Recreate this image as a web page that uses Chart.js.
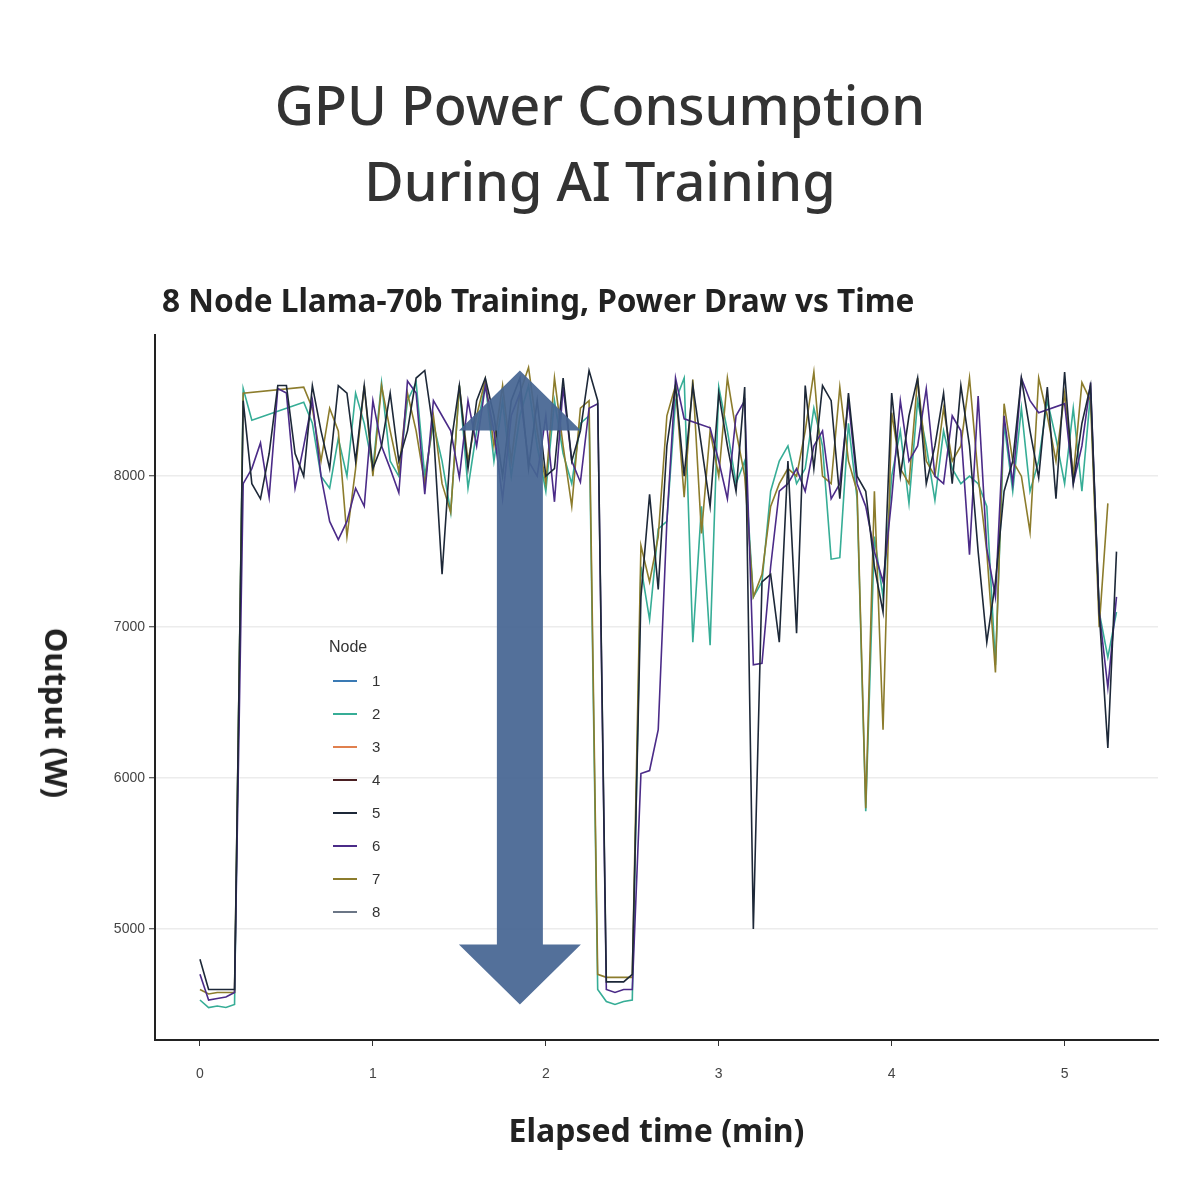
<!DOCTYPE html>
<html>
<head>
<meta charset="utf-8">
<script src="https://cdn.jsdelivr.net/npm/chart.js@4"></script>
<style>
    body { margin: 0; background: #fff; }
    #wrap { position: relative; width: 1200px; height: 1200px; background: #fff; }
    #chart { position: absolute; left: 0; top: 0; }
    .title {
        position: absolute; left: 0; top: 66px; width: 1200px; text-align: center;
        font-family: 'Noto Sans', sans-serif; font-size: 54px; font-weight: 500;
        line-height: 76px; color: #333;
    }
    .subtitle {
        position: absolute; left: 162px; top: 281px;
        font-family: 'Noto Sans', sans-serif; font-size: 31.6px; font-weight: bold;
        line-height: 38px; color: #222; white-space: nowrap;
    }
    .ylabel {
        position: absolute; left: 57px; top: 713px; white-space: nowrap;
        font-family: 'Noto Sans', sans-serif; font-size: 31px; font-weight: bold; color: #222;
        transform: translate(-50%, -50%) rotate(90deg);
    }
    #legend {
        position: absolute; left: 329px; top: 638px;
        font-family: 'Liberation Sans', Arial, sans-serif; color: #333;
    }
    #legend .head { font-size: 16px; height: 26px; }
    #legend .row { display: flex; align-items: center; height: 33px; font-size: 15px; }
    #legend .sw { display: inline-block; width: 24px; height: 2px; margin: 0 15px 0 4px; }
</style>
</head>
<body>
<div id="wrap">
    <canvas id="chart" width="1200" height="1200"></canvas>
    <div class="title">GPU Power Consumption<br>During AI Training</div>
    <div class="subtitle">8 Node Llama-70b Training, Power Draw vs Time</div>
    <div class="ylabel">Output (W)</div>
    <div id="legend"></div>
</div>
<script>
// elapsed time (min) of each sample
const times = [
    0, 0.05, 0.1, 0.15, 0.2, 0.25, 0.3, 0.35, 0.4, 0.45,
    0.5, 0.55, 0.6, 0.65, 0.7, 0.75, 0.8, 0.85, 0.9, 0.95,
    1, 1.05, 1.1, 1.15, 1.2, 1.25, 1.3, 1.35, 1.4, 1.45,
    1.5, 1.55, 1.6, 1.65, 1.7, 1.75, 1.8, 1.85, 1.9, 1.95,
    2, 2.05, 2.1, 2.15, 2.2, 2.25, 2.3, 2.35, 2.4, 2.45,
    2.5, 2.55, 2.6, 2.65, 2.7, 2.75, 2.8, 2.85, 2.9, 2.95,
    3, 3.05, 3.1, 3.15, 3.2, 3.25, 3.3, 3.35, 3.4, 3.45,
    3.5, 3.55, 3.6, 3.65, 3.7, 3.75, 3.8, 3.85, 3.9, 3.95,
    4, 4.05, 4.1, 4.15, 4.2, 4.25, 4.3, 4.35, 4.4, 4.45,
    4.5, 4.55, 4.6, 4.65, 4.7, 4.75, 4.8, 4.85, 4.9, 4.95,
    5, 5.05, 5.1, 5.15, 5.2, 5.25, 5.3
];

const nodeNames = ['1', '2', '3', '4', '5', '6', '7', '8'];
const nodeColors = ['#3a7ab4', '#36ad96', '#e0804e', '#4a1f22', '#1d2838', '#4b2b88', '#8c7c2c', '#6b7686'];

// power draw (W) per node; nodes 1, 3, 4 and 8 sit hidden under the others in the source
const node1 = [];
const node3 = [];
const node4 = [];
const node8 = [];

const node2 = [
    4530, 4480, 4490, 4480, 4500, 8580, 8370, null, null, null,
    null, null, 8490, 8350, 8000, 7920, 8250, 8000, 8550, 8350,
    8050, 8620, 8100, 8000, 8500, 8620, 8000, 8350, 8100, 7760,
    8600, 7920, 8300, 8620, 8100, 8500, 8000, 8400, 8600, 8200,
    7900, 8500, 8150, 7950, 8350, 8400, 4600, 4520, 4500, 4520,
    4530, 7400, 7050, 7650, 7700, 8500, 8650, 6900, 7800, 6880,
    8590, 8300, 7950, 8100, 7200, 7300, 7900, 8100, 8200, 7950,
    8050, 8450, 8200, 7450, 7460, 8350, 7850, 5780, 7600, 7200,
    8000, 8300, 7820, 8500, 8200, 7840, 8300, 8050, 7950, 8000,
    7950, 7800, 6750, 8350, 7900, 8450, 7900, 8100, 8500, 8250,
    7950, 8450, 7900, 8550, 7100, 6800, 7100
];

const node5 = [
    4800, 4600, 4600, 4600, 4600, 8500, 7950, 7850, 8150, 8600,
    8600, 8150, 8000, 8600, 8300, 8050, 8600, 8550, 8100, 8600,
    8050, 8200, 8550, 8100, 8300, 8650, 8700, 8300, 7350, 8200,
    8600, 8050, 8500, 8650, 8400, 8000, 8500, 8650, 8050, 8500,
    8000, 8050, 8650, 8100, 8300, 8700, 8500, 4650, 4650, 4650,
    4700, 7200, 7880, 7250, 8200, 8600, 8000, 8600, 8200, 7800,
    8550, 8200, 7900, 8590, 5000, 7300, 7350, 6900, 8100, 6960,
    8600, 8050, 8600, 8500, 7850, 8550, 8000, 7900, 7400, 7100,
    8550, 8000, 8400, 8650, 7950, 8200, 8550, 7950, 8600, 8200,
    7500, 6900, 7300, 7900, 8100, 8650, 8300, 7990, 8590, 7850,
    8690, 7950, 8350, 8600, 7100, 6200, 7500
];

const node6 = [
    4700, 4530, 4540, 4550, 4580, 7950, 8050, 8220, 7860, 8580,
    8550, 7920, 8200, 8500, 8000, 7700, 7580, 7700, 7920, 7800,
    8500, 8200, 8050, 7890, 8630, 8550, 7880, 8500, 8400, 8300,
    7990, 8500, 8200, 8600, 8300, 7850, 8400, 8550, 8100, 8000,
    8400, 7830, 8590, 8100, 7960, 8450, 8480, 4600, 4580, 4600,
    4600, 6030, 6050, 6320, 7700, 8650, 8380, null, null, 8320,
    8100, 7850, 8400, 8500, 6750, 6760, 7400, 7900, 7950, 8050,
    7900, 8200, 8300, 7850, 7950, 8500, 7950, 7800, 7500, 7300,
    7850, 8500, 8100, 8200, 8580, 8000, 7950, 8400, 8300, 7480,
    8530, 7520, 7200, 8400, 7950, 8650, 8500, 8420, null, null,
    8480, 7950, 8200, 8620, 7100, 6600, 7200
];

const node7 = [
    4600, 4570, 4580, 4580, 4580, 8550, null, null, null, null,
    null, null, 8590, 8450, 8100, 8450, 8300, 7600, 8050, 8600,
    8000, 8600, 8300, 8030, 8550, 8300, 7950, 8400, 7950, 7760,
    8600, 8100, 8400, 8640, 8200, 8600, 8100, 8550, 8720, 8300,
    7950, 8650, 8200, 7800, 8450, 8500, 4700, 4680, 4680, 4680,
    4680, 7540, 7300, 7600, 8400, 8600, 7860, 8640, 7620, 8300,
    8000, 8650, 8300, 8000, 7200, 7350, 7800, 7950, 8050, 8000,
    8300, 8690, 8000, 7950, 8590, 8100, 7900, 5800, 7900, 6320,
    8420, 8050, 7950, 8650, 8100, 8000, 8450, 8100, 8200, 8650,
    8000, 7500, 6700, 8480, 8100, 8000, 7630, 8650, 8400, 8100,
    8550, 8000, 8620, 8500, 7000, 7820, null
];

const nodeSeries = [node1, node2, node3, node4, node5, node6, node7, node8];
// drawing order: lower is painted on top
const nodeOrder = [6, 3, 5, 7, 0, 1, 2, 4];

const xTicks = [0, 1, 2, 3, 4, 5];
const yTicks = [5000, 6000, 7000, 8000];

// double-headed arrow annotation (data coordinates)
const arrowX = 1.85;
const arrowTop = 8700;
const arrowBottom = 4500;

const arrowPlugin = {
    id: 'arrow',
    afterDatasetsDraw(chart) {
        const { ctx, scales: { x, y } } = chart;
        const cx = x.getPixelForValue(arrowX);
        const top = y.getPixelForValue(arrowTop);
        const bottom = y.getPixelForValue(arrowBottom);
        const head = 60, halfHead = 61, halfShaft = 23;
        ctx.save();
        ctx.fillStyle = 'rgba(70, 101, 146, 0.93)';
        ctx.beginPath();
        ctx.moveTo(cx, top);
        ctx.lineTo(cx + halfHead, top + head);
        ctx.lineTo(cx + halfShaft, top + head);
        ctx.lineTo(cx + halfShaft, bottom - head);
        ctx.lineTo(cx + halfHead, bottom - head);
        ctx.lineTo(cx, bottom);
        ctx.lineTo(cx - halfHead, bottom - head);
        ctx.lineTo(cx - halfShaft, bottom - head);
        ctx.lineTo(cx - halfShaft, top + head);
        ctx.lineTo(cx - halfHead, top + head);
        ctx.closePath();
        ctx.fill();
        ctx.restore();
    }
};

const datasets = nodeNames.map((name, i) => ({
    label: name,
    data: nodeSeries[i].map((v, j) => ({ x: times[j], y: v })),
    borderColor: nodeColors[i],
    backgroundColor: nodeColors[i],
    borderWidth: 1.6,
    pointRadius: 0,
    tension: 0,
    spanGaps: true,
    order: nodeOrder[i]
}));

const tickFont = { family: "'Liberation Sans', Arial, sans-serif", size: 14 };

const chart = new Chart(document.getElementById('chart').getContext('2d'), {
    type: 'line',
    data: { datasets: datasets },
    options: {
        responsive: false,
        animation: false,
        devicePixelRatio: 1,
        layout: { padding: { top: 335, right: 42, left: 0, bottom: 0 } },
        plugins: {
            legend: { display: false },
            tooltip: { enabled: false }
        },
        scales: {
            x: {
                type: 'linear',
                min: -0.26,
                max: 5.54,
                afterBuildTicks: scale => { scale.ticks = xTicks.map(v => ({ value: v })); },
                afterFit: scale => { scale.height = 160; },
                grid: { drawOnChartArea: false, tickLength: 6, tickColor: '#333', tickWidth: 1 },
                border: { color: '#222', width: 2 },
                ticks: { color: '#444', font: tickFont, padding: 20, maxRotation: 0, callback: v => String(v) },
                title: {
                    display: true,
                    text: 'Elapsed time (min)',
                    color: '#222',
                    font: { family: "'Noto Sans', sans-serif", size: 32, weight: 'bold' },
                    padding: { top: 0, bottom: 48 }
                }
            },
            y: {
                min: 4265,
                max: 8935,
                afterBuildTicks: scale => { scale.ticks = yTicks.map(v => ({ value: v })); },
                afterFit: scale => { scale.width = 155; },
                grid: { color: '#ececec', lineWidth: 1.5, tickLength: 6, tickColor: '#333', tickWidth: 1 },
                border: { color: '#222', width: 2 },
                ticks: { color: '#444', font: tickFont, padding: 4, callback: v => String(v) }
            }
        }
    },
    plugins: [arrowPlugin]
});

// legend built from the chart's datasets, placed inside the plot like the source
const legendEl = document.getElementById('legend');
const head = document.createElement('div');
head.className = 'head';
head.textContent = 'Node';
legendEl.appendChild(head);
chart.data.datasets.forEach(ds => {
    const row = document.createElement('div');
    row.className = 'row';
    const sw = document.createElement('span');
    sw.className = 'sw';
    sw.style.background = ds.borderColor;
    const label = document.createElement('span');
    label.textContent = ds.label;
    row.appendChild(sw);
    row.appendChild(label);
    legendEl.appendChild(row);
});
</script>
</body>
</html>
